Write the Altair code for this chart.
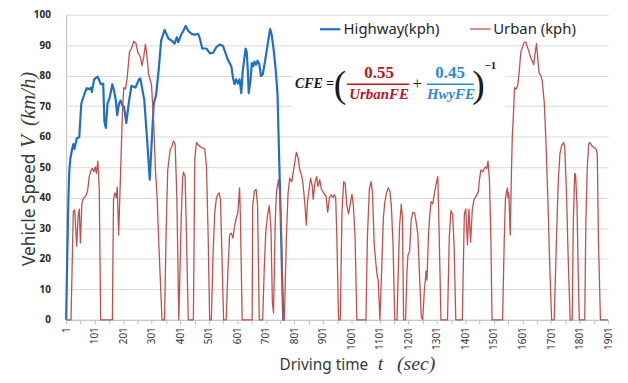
import altair as alt
import pandas as pd

# ---------------- data ----------------
hwy_t = [1, 5, 9, 12, 16, 22, 26, 30, 38, 47, 54, 65, 73, 82, 88, 91, 99, 111, 117, 122,
         131, 135, 140, 146, 154, 163, 169, 175, 180, 186, 192, 198, 204, 212, 221, 230,
         244, 256, 261, 267, 275, 284, 294, 302, 308, 316, 325, 334, 346, 360, 371, 381,
         389, 394, 404, 412, 420, 429, 441, 452, 464, 470, 478, 493, 505, 516, 528, 539,
         551, 560, 568, 580, 586, 591, 597, 603, 609, 615, 620, 630, 634, 638, 641, 647,
         652, 657, 661, 667, 672, 678, 684, 690, 698, 707, 716, 721, 728, 736, 742, 748,
         752, 757, 762, 765]
hwy_v = [0, 22, 40, 49, 53, 56, 57.6, 56, 59.4, 59.9, 70.8, 74, 75.9, 75.6, 76.1, 74.6, 78.8, 79.7, 78.5, 77.2,
         77.4, 65, 62.9, 70.8, 73, 77.2, 75.1, 71.9, 67.1, 70.8, 71.9, 70.3, 69.8, 64.5, 71.4, 76.7,
         76.1, 78.8, 79.1, 76.1, 71.9, 60.2, 45.9, 60.2, 70.8, 73.5, 81.5, 91.5, 95, 92.1, 91.5, 90.5,
         92.6, 91, 93.4, 94.7, 96.3, 94.7, 93.7, 93.4, 93.7, 92.1, 88.9, 88.9, 87.3, 87.5, 89.4, 90.2,
         89.7, 87.3, 85.2, 83.1, 79.3, 77.2, 78.8, 77.4, 78.8, 74.3, 81.5, 88.9, 87.8, 81.5, 74.3, 78.3,
         84.1, 83.1, 84.6, 83.6, 84.9, 83.8, 79.9, 80.4, 84.6, 90, 95.3, 93.7, 88.9, 81.5, 74, 52,
         38, 18, 0, 0]

urb_t = [1, 18, 26, 31, 38, 43, 47, 51, 56, 61, 70, 76, 82, 88, 93, 98, 103, 107, 112, 117,
         122, 163, 167, 172, 177, 180, 185, 191, 198, 203, 209, 215, 223, 230, 238, 246, 253,
         261, 267, 273, 279, 285, 290, 300, 308, 314, 320, 325, 331, 337, 346, 351, 357, 366,
         371, 377, 383, 389, 396, 404, 409, 412, 418, 423, 429, 447, 452, 458, 467, 475, 487,
         493, 499, 504, 510, 516, 522, 528, 533, 537, 542, 545, 553, 562, 568, 574, 580, 586,
         591, 597, 603, 609, 612, 618, 653, 655, 661, 667, 672, 678, 690, 696, 701, 707, 713,
         719, 724, 728, 734, 738, 745, 750, 756, 762, 766, 773, 779, 785, 792, 800, 808, 815,
         820, 826, 831, 838, 843, 847, 852, 858, 864, 867, 873, 879, 884, 890, 896, 904, 912,
         918, 924, 930, 936, 941, 946, 950, 956, 962, 968, 974, 979, 985, 991, 997, 1003, 1008,
         1014, 1020, 1052, 1057, 1064, 1070, 1075, 1081, 1087, 1092, 1095, 1101, 1107, 1113,
         1118, 1124, 1130, 1136, 1141, 1147, 1153, 1161, 1166, 1170, 1176, 1180, 1184, 1191,
         1196, 1199, 1205, 1211, 1217, 1223, 1228, 1234, 1240, 1246, 1251, 1257, 1263, 1266,
         1271, 1275, 1280, 1286, 1292, 1298, 1304, 1309, 1315, 1338, 1344, 1350, 1356, 1361,
         1367, 1390, 1393, 1397, 1402, 1408, 1413, 1419, 1425, 1431, 1439, 1446, 1450, 1455,
         1462, 1467, 1471, 1476, 1480, 1485, 1490, 1494, 1531, 1537, 1541, 1544, 1548, 1550,
         1553, 1558, 1562, 1565, 1570, 1573, 1578, 1584, 1589, 1595, 1601, 1607, 1613, 1618,
         1624, 1630, 1636, 1640, 1645, 1650, 1654, 1659, 1666, 1670, 1677, 1683, 1689, 1697,
         1703, 1712, 1720, 1726, 1732, 1738, 1745, 1749, 1755, 1761, 1768, 1775, 1779, 1784,
         1787, 1792, 1796, 1800, 1819, 1823, 1828, 1833, 1837, 1844, 1851, 1858, 1863, 1867,
         1874, 1900]
urb_v = [0, 0, 35.5, 36, 24.1, 34, 36.3, 25.2, 38, 39.8, 40.6, 42.2, 46.9, 49, 49.6, 48.5, 50.1, 48, 52, 42.7,
         0, 0, 39.5, 41.6, 40, 43.5, 27.8, 45.9, 67.1, 76.1, 75.6, 79.3, 87.8, 88.9, 91.3, 90.5, 87.3,
         86.2, 83.3, 86.2, 90.3, 85.7, 80.4, 77.2, 64.5, 49, 40, 26.8, 13.5, 0, 0, 26.8, 49, 56,
         56.5, 58.6, 57.6, 40.6, 0, 32.1, 46, 48.5, 46.9, 26.8, 0, 0, 52.8, 58.1, 57, 56.5, 56,
         50.1, 26.8, 0, 0, 21.4, 35.3, 40, 41.1, 41.6, 39.5, 28.9, 0, 0, 16.1, 27.8, 28.4, 26.8,
         30.5, 33.1, 35.3, 43.2, 33.1, 0, 0, 37.4, 42.2, 42.7, 37.4, 0, 0, 18.3, 28.9, 34.2, 37.4,
         30, 5.5, 2.3, 32.1, 41.6, 45.9, 41.6, 26.8, 0, 0, 26.8, 41.6, 46.4, 45.3, 50.1, 54.9, 52.8,
         49.1, 47.5, 44.8, 37.9, 31, 38.4, 42.2, 46.4, 43.7, 39.5, 44.8, 46.9, 43.7, 45.9, 42.7, 41.6, 40.6,
         35.3, 40, 41, 40, 41.1, 40, 26.8, 0, 0, 35.3, 45.3, 44.8, 37.4, 34.7, 37.9, 41.1, 37.4,
         26.8, 0, 0, 26.8, 42.7, 45.3, 41.6, 24.6, 18.3, 14, 13, 0, 16.1, 33.1,
         38.4, 41.6, 43.2, 42.2, 37.4, 24.6, 0, 0, 18.3, 31, 37.9, 33.1, 0, 0,
         16.1, 21, 22.5, 33, 35.3, 35, 32, 28, 14, 1, 0, 10, 16, 13,
         27.3, 33.4, 38.7, 38, 41.4, 44.5, 46.9, 26.8, 0, 0, 26.8, 35.8, 34.5, 24.4,
         0, 0, 16.1, 34.5, 36.3, 24.6, 36.3, 25.5, 36.3, 39.5, 40.6, 42, 45.9, 49.1,
         48.5, 49.6, 50.1, 49.6, 52, 45.9, 26.8, 0, 0, 26.8, 39.5, 41.6, 43.2, 40,
         41.6, 27.8, 48, 59.7, 69.2, 76.1, 75.6, 76.7, 80.9, 87.8, 89.4, 91, 91, 89.4,
         87.8, 85.7, 84.6, 83.6, 87.3, 90.5, 86.2, 80.9, 79.9, 78.3, 71.4, 58.6, 41.6, 16.1,
         0, 0, 26.8, 44.8, 54.4, 57, 58.1, 56.5, 41.6, 20.4, 0, 0, 32.1, 48,
         47.5, 37.4, 16.1, 0, 0, 32.1, 50.1, 57.6, 58.1, 57, 56.5, 56, 54.4, 26.8,
         0, 0]

series_names = ["Highway(kph)", "Urban (kph)"]
series_colors = ["#1f6fc4", "#c0504d"]
series_widths = [2.2, 1.3]

x_ticks = list(range(1, 1902, 50))
y_ticks = list(range(0, 101, 10))

# formula annotation (in data units)
formula_box = {"t": [794], "t2": [1541], "v": [63.6], "v2": [89.4]}
frac_lines = {"t": [985, 1266], "t2": [1204, 1430], "v": [77.2, 77.2], "c": ["#c0111f", "#2e8bd6"]}

df = pd.concat([
    pd.DataFrame({"t": hwy_t, "v": hwy_v, "series": series_names[0]}),
    pd.DataFrame({"t": urb_t, "v": urb_v, "series": series_names[1]}),
], ignore_index=True)

X = alt.X("t:Q", scale=alt.Scale(domain=[1, 1901], nice=False, zero=False),
          axis=alt.Axis(values=x_ticks, title=None, grid=False,
                        labelExpr="(datum.value - 1) % 100 == 0 ? format(datum.value, 'd') : ''",
                        labelAngle=270, labelFlush=False, labelOverlap=False,
                        labelFont="Noto Sans", labelFontSize=10, labelColor="#333333",
                        labelPadding=3, tickSize=4, tickColor="#bfbfbf",
                        domainColor="#bfbfbf"))
Y = alt.Y("v:Q", scale=alt.Scale(domain=[0, 100], nice=False),
          axis=alt.Axis(values=y_ticks, title=None, grid=True, gridColor="#d9d9d9",
                        ticks=False, labelFont="Noto Sans", labelFontSize=10,
                        labelFontWeight="bold", labelColor="#262626", labelPadding=16,
                        domainColor="#bfbfbf"))

box = alt.Chart(pd.DataFrame(formula_box)).mark_rect(color="white").encode(
    x=X, x2="t2:Q", y=Y, y2="v2:Q")

lines = alt.Chart(df).mark_line(strokeJoin="round").encode(
    x=X, y=Y,
    color=alt.Color("series:N",
                    scale=alt.Scale(domain=series_names, range=series_colors),
                    legend=alt.Legend(title=None, orient="none", legendX=255, legendY=3,
                                      direction="horizontal", symbolType="stroke",
                                      symbolSize=420, symbolStrokeWidth=2,
                                      labelFont="Noto Sans", labelFontSize=15,
                                      labelColor="#262626", labelOffset=2,
                                      columnPadding=28)),
    strokeWidth=alt.StrokeWidth("series:N",
                                scale=alt.Scale(domain=series_names, range=series_widths),
                                legend=None),
)

rules = alt.Chart(pd.DataFrame(frac_lines)).mark_rule(strokeWidth=1.4).encode(
    x=X, x2="t2:Q", y=Y, color=alt.Color("c:N", scale=None))

def ftext(t, v, s, color, size, weight="bold", style="italic", align="center",
          font="Liberation Serif", baseline="middle"):
    return alt.Chart(pd.DataFrame({"t": [t], "v": [v]})).mark_text(
        text=s, color=color, fontSize=size, fontWeight=weight, fontStyle=style,
        align=align, baseline=baseline, font=font).encode(x=X, y=Y)

formula = [
    ftext(940, 77.1, "CFE =", "#1a1a1a", 14, align="right"),
    ftext(961, 76.6, "(", "#1a1a1a", 38, weight="normal", style="normal"),
    ftext(1098, 80.8, "0.55", "#c0111f", 17, style="normal"),
    ftext(1098, 74.0, "UrbanFE", "#c0111f", 15),
    ftext(1232, 77.1, "+", "#1a1a1a", 17, weight="normal", style="normal"),
    ftext(1347, 80.8, "0.45", "#2e8bd6", 17, style="normal"),
    ftext(1350, 74.0, "HwyFE", "#2e8bd6", 15),
    ftext(1447, 76.6, ")", "#1a1a1a", 38, weight="normal", style="normal"),
    ftext(1468, 83.3, "\u22121", "#1a1a1a", 11, style="normal", align="left"),
]

def ptext(px, py, s, size, font, style="normal", angle=0, align="center",
          baseline="alphabetic"):
    kw = dict(text=s, fontSize=size, font=font, fontStyle=style, align=align,
              baseline=baseline, color="#3a3a3a")
    if angle:
        kw["angle"] = angle
    return alt.Chart(pd.DataFrame({"a": [0]})).mark_text(**kw).encode(
        x=alt.value(px), y=alt.value(py))

titles = [
    ptext(215.3, 359, "Driving time", 15.5, "Noto Sans", align="left"),
    ptext(317.3, 359, "t", 20, "Liberation Serif", style="italic"),
    ptext(353.3, 359, "(sec)", 20, "Liberation Serif", style="italic"),
    ptext(-31.7, 197, "Vehicle Speed", 17.5, "Noto Sans", angle=270),
    ptext(-31.7, 128, "V", 21, "Liberation Serif", style="italic", angle=270),
    ptext(-31.7, 85, "(km/h)", 21, "Liberation Serif", style="italic", angle=270),
]

chart = alt.layer(box, lines, rules, *formula, *titles).properties(
    width=547, height=308,
    padding={"left": 58.7, "top": 5, "right": 12, "bottom": 54},
    autosize=alt.AutoSizeParams(type="none"),
    background="white",
).configure_view(stroke=None)

chart.save("out.html", embed_options={"renderer": "svg", "actions": False})
